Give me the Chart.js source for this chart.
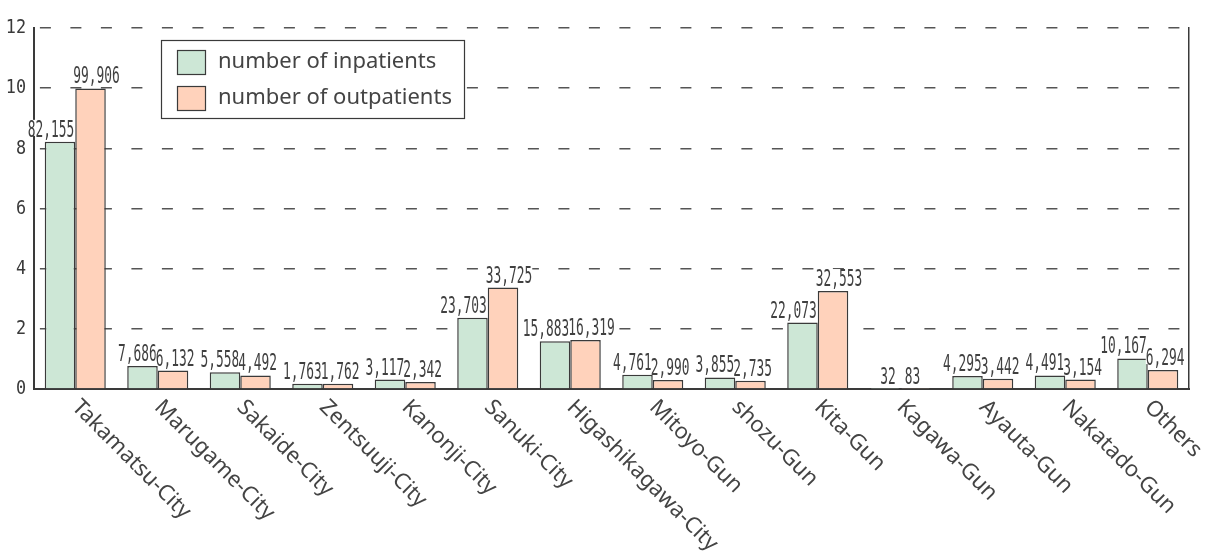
<!DOCTYPE html>
<html>
<head>
<meta charset="utf-8">
<script src="https://cdn.jsdelivr.net/npm/chart.js@4"></script>
<style>
  html, body { margin: 0; padding: 0; background: #fff; }
  #wrap { width: 1206px; height: 557px; }
</style>
</head>
<body>
<div id="wrap"><canvas id="barChart"></canvas></div>
<script>
const areas = ['Takamatsu-City', 'Marugame-City', 'Sakaide-City', 'Zentsuuji-City', 'Kanonji-City',
  'Sanuki-City', 'Higashikagawa-City', 'Mitoyo-Gun', 'shozu-Gun', 'Kita-Gun', 'Kagawa-Gun',
  'Ayauta-Gun', 'Nakatado-Gun', 'Others']
const inpatients = [82155, 7686, 5558, 1763, 3117, 23703, 15883, 4761, 3855, 22073, 32, 4295, 4491, 10167]
const outpatients = [99906, 6132, 4492, 1762, 2342, 33725, 16319, 2990, 2735, 32553, 83, 3442, 3154, 6294]
const yTicks = [0, 2, 4, 6, 8, 10, 12]
const unit = 10000

const ink = '#3a3a3a'
const mono = '"DejaVu Sans Mono", "Liberation Mono", monospace'
const plain = '"Noto Sans", "DejaVu Sans", sans-serif'

// squeezed text, the numbers in the picture are very narrow
function narrowText(ctx, text, x, y, align, squeeze) {
  ctx.save()
  ctx.translate(x, y)
  ctx.scale(squeeze, 1)
  ctx.textAlign = align
  ctx.fillText(text, 0, 0)
  ctx.restore()
}

// numbers above each bar
const valueLabels = {
  id: 'valueLabels',
  afterDatasetsDraw(chart) {
    const ctx = chart.ctx
    const sq = 0.56
    ctx.save()
    ctx.font = '23px ' + mono
    ctx.textBaseline = 'alphabetic'
    chart.data.datasets.forEach((ds, di) => {
      const meta = chart.getDatasetMeta(di)
      meta.data.forEach((bar, i) => {
        const txt = ds.raw[i].toLocaleString('en-US')
        const tw = ctx.measureText(txt).width * sq
        let l
        if (di == 0) {
          l = Math.min(bar.x + bar.width / 2 - 1, bar.x + tw / 2 + 3) - tw
        } else {
          l = Math.max(bar.x - bar.width / 2 - 2, bar.x - tw / 2 - 3)
        }
        ctx.fillStyle = '#fff'
        ctx.fillRect(l, bar.y - 22, tw, 16)
        ctx.fillStyle = '#404040'
        narrowText(ctx, txt, l, bar.y - 5, 'left', sq)
      })
    })
    ctx.restore()
  }
}

// y tick numbers + slanted category names
const axisText = {
  id: 'axisText',
  afterDraw(chart) {
    const ctx = chart.ctx
    const xs = chart.scales.x
    const ys = chart.scales.y
    ctx.save()
    ctx.fillStyle = ink
    ctx.font = '20px ' + mono
    ctx.textBaseline = 'middle'
    yTicks.forEach(v => {
      narrowText(ctx, String(v), ys.right - 8, ys.getPixelForValue(v), 'right', 0.84)
    })

    ctx.font = '22px ' + plain
    ctx.fillStyle = '#444'
    ctx.textAlign = 'left'
    ctx.textBaseline = 'top'
    areas.forEach((name, i) => {
      const x = xs.getPixelForValue(i)
      ctx.save()
      ctx.translate(x + 8, xs.top + 7)
      ctx.rotate(45 * Math.PI / 180)
      ctx.fillText(name, 0, 0)
      ctx.restore()
    })
    ctx.restore()
  }
}

// boxed legend inside the plot
const boxLegend = {
  id: 'boxLegend',
  afterDraw(chart) {
    const ctx = chart.ctx
    const left = 161, top = 40, w = 303, h = 78
    ctx.save()
    ctx.fillStyle = '#fff'
    ctx.fillRect(left, top, w, h)
    ctx.strokeStyle = ink
    ctx.lineWidth = 1.2
    ctx.strokeRect(left + 0.5, top + 0.5, w, h)
    ctx.font = '22px ' + plain
    ctx.textBaseline = 'middle'
    chart.data.datasets.forEach((ds, di) => {
      const y = top + 10 + di * 36
      ctx.fillStyle = ds.backgroundColor
      ctx.fillRect(left + 16, y, 28, 24)
      ctx.strokeStyle = ink
      ctx.strokeRect(left + 16.5, y + 0.5, 28, 24)
      ctx.fillStyle = '#444'
      ctx.fillText(ds.label, left + 57, y + 12)
    })
    ctx.restore()
  }
}

const barChartCanvas = document.getElementById('barChart')
const barChart = new Chart(barChartCanvas, {
  type: 'bar',
  data: {
    labels: areas,
    datasets: [{
      label: 'number of inpatients',
      raw: inpatients,
      data: inpatients.map(v => v / unit),
      backgroundColor: '#cde7d6',
      borderColor: ink,
      borderWidth: 1.5,
      borderSkipped: 'bottom'
    }, {
      label: 'number of outpatients',
      raw: outpatients,
      data: outpatients.map(v => v / unit),
      backgroundColor: '#ffd2bb',
      borderColor: ink,
      borderWidth: 1.5,
      borderSkipped: 'bottom'
    }]
  },
  options: {
    responsive: true,
    maintainAspectRatio: false,
    animation: false,
    layout: { padding: { top: 28, left: 0, right: 0, bottom: 0 } },
    datasets: { bar: { categoryPercentage: 0.74, barPercentage: 1 } },
    plugins: { legend: { display: false }, tooltip: { enabled: false } },
    scales: {
      x: {
        grid: { display: false },
        border: { display: true, color: ink, width: 2 },
        ticks: { display: false },
        afterFit: s => { s.height = 168 }
      },
      y: {
        min: 0,
        max: 12,
        afterBuildTicks: s => { s.ticks = yTicks.map(v => ({ value: v })) },
        afterFit: s => { s.width = 34 },
        grid: { color: '#555', lineWidth: 1.5, drawTicks: false },
        border: { display: true, color: ink, width: 2, dash: [11, 19.5], dashOffset: 25.6 },
        ticks: { display: false }
      },
      y2: {
        position: 'right',
        min: 0,
        max: 12,
        grid: { display: false },
        ticks: { display: false },
        border: { display: true, color: ink, width: 1.5 },
        afterFit: s => { s.width = 17 }
      }
    }
  },
  plugins: [valueLabels, axisText, boxLegend]
})
</script>
</body>
</html>
